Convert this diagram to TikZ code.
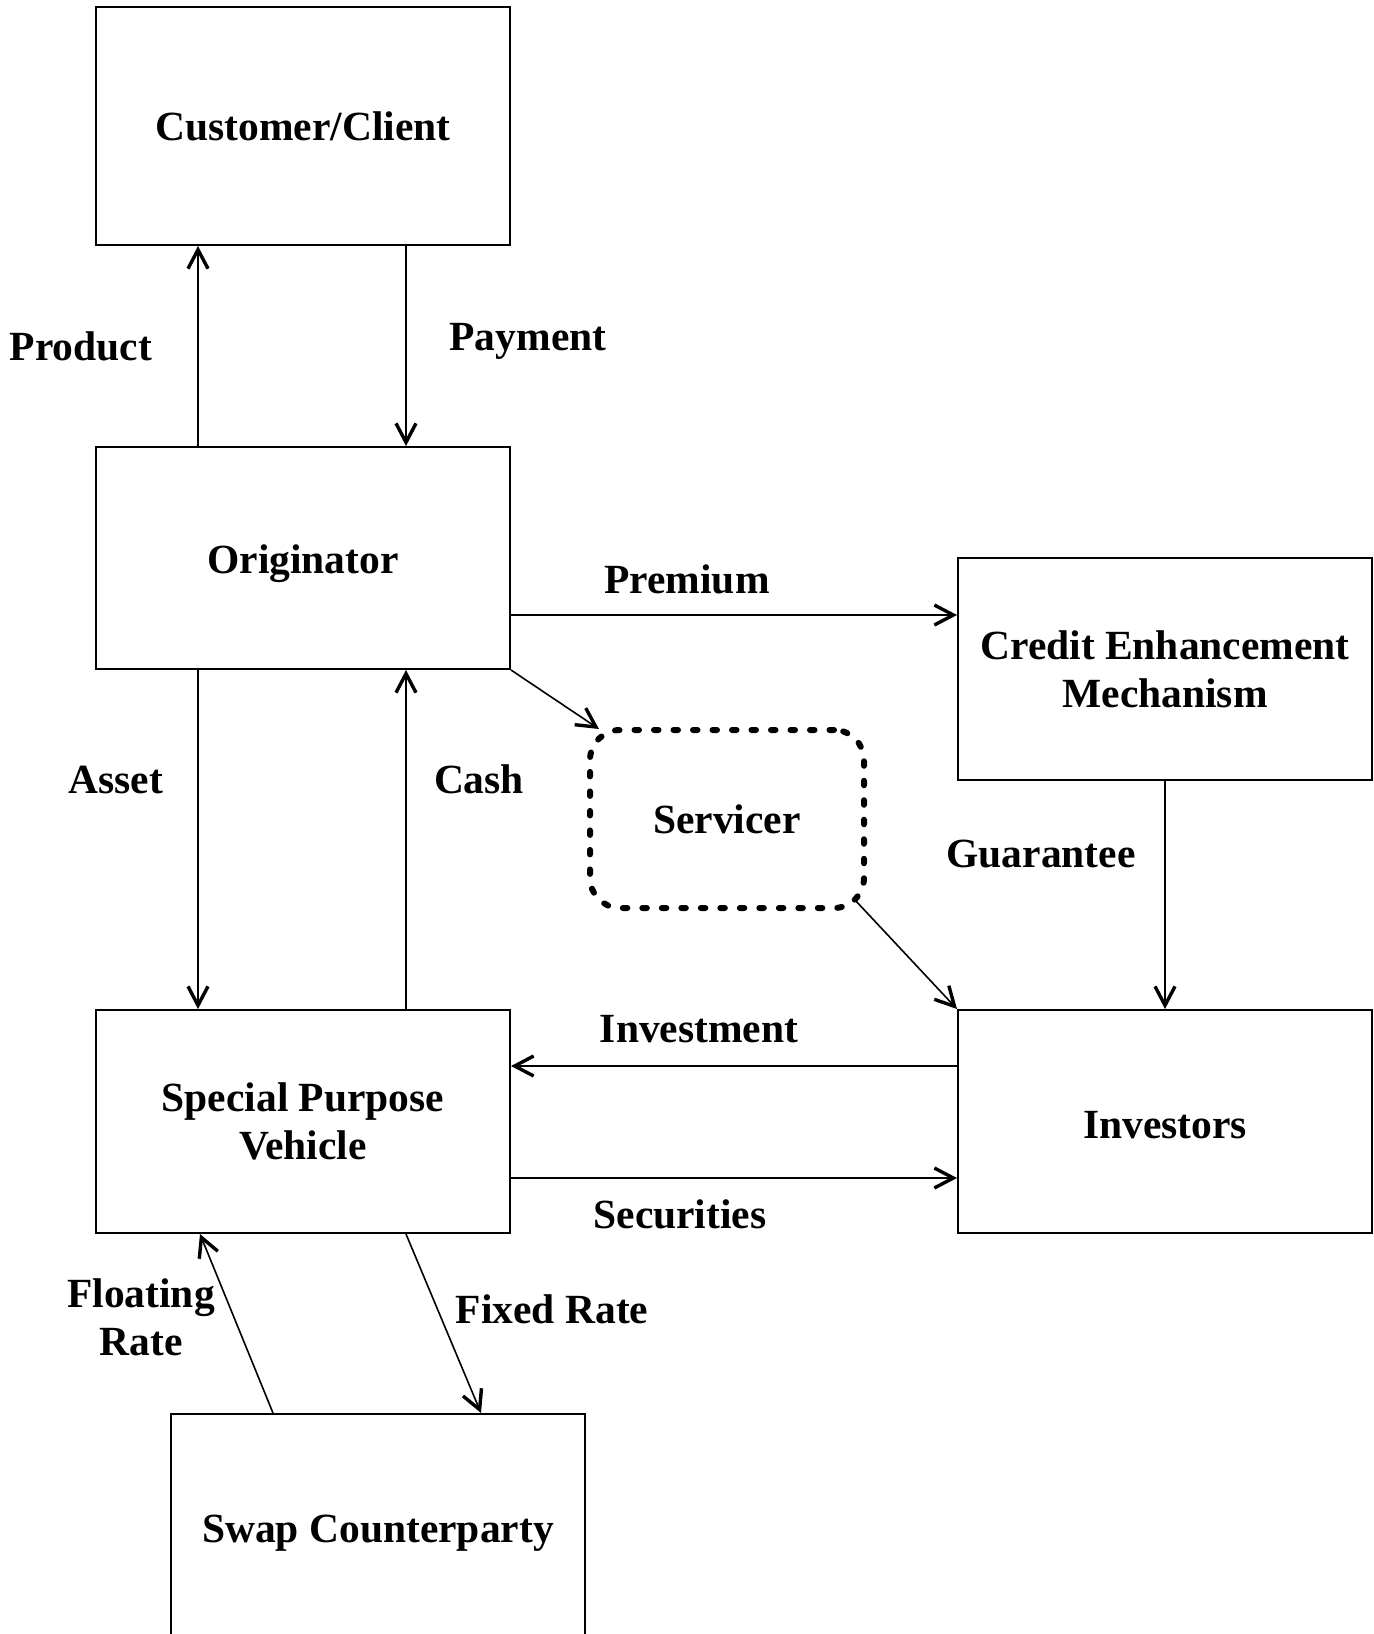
\documentclass[tikz,border=0pt]{standalone}
\usepackage{fontspec}
\setmainfont{Liberation Serif}
\usetikzlibrary{arrows.meta}
\newcommand{\lbl}{\fontsize{41.5}{48}\selectfont\bfseries}
\tikzset{
  box/.style={draw, line width=2pt, minimum width=414pt, inner sep=0pt, align=center, font=\lbl},
  arr/.style={line width=1.6pt, -{Straight Barb[length=19pt,width=20pt,line width=3.4pt 0]}},
  lab/.style={inner sep=0pt, font=\lbl, align=center},
  dotbox/.style={draw, line width=6pt, line cap=round, dash pattern=on 4.5pt off 15pt, rounded corners=30pt, inner sep=0pt, font=\lbl}
}
\begin{document}
\begin{tikzpicture}[x=1pt,y=-1pt]
\useasboundingbox (0,0) rectangle (1374,1634);
% boxes
\node[box, minimum height=238pt] (cust) at (303,126) {Customer/Client};
\node[box, minimum height=222pt] (orig) at (303,558) {};
\node[lab] (origt) at (303,564) {Originator};
\node[box, minimum height=222pt] (ce) at (1165,669) {Credit Enhancement\\Mechanism};
\node[dotbox, minimum width=274pt, minimum height=178pt] (serv) at (727,819) {Servicer};
\node[box, minimum height=223pt] (spv) at (303,1121.5) {Special Purpose\\Vehicle};
\node[box, minimum height=223pt] (inv) at (1165,1121.5) {};
\node[lab] (invt) at (1165,1125.5) {Investors};
\node[box, minimum height=228pt] (swap) at (378,1528) {};
\node[lab] (swapt) at (378,1533) {Swap Counterparty};
% connectors
\draw[arr] ([xshift=103pt]orig.north west) -- ([xshift=103pt]cust.south west);
\draw[arr] ([xshift=311pt]cust.south west) -- ([xshift=311pt]orig.north west);
\draw[arr] ([xshift=103pt]orig.south west) -- ([xshift=103pt]spv.north west);
\draw[arr] ([xshift=311pt]spv.north west) -- ([xshift=311pt]orig.south west);
\draw[arr] ([yshift=-57pt]orig.east) -- ([yshift=54pt]ce.west);
\draw[arr] (orig.south east) -- ([xshift=12pt,yshift=-2pt]serv.north west);
\draw[arr] ([xshift=-12pt,yshift=11pt]serv.south east) -- (inv.north west);
\draw[arr] (ce.south) -- (inv.north);
\draw[arr] ([yshift=55.5pt]inv.west) -- ([yshift=55.5pt]spv.east);
\draw[arr] ([yshift=-56.5pt]spv.east) -- ([yshift=-56.5pt]inv.west);
\draw[arr] ([xshift=103pt]swap.north west) -- ([xshift=105pt]spv.south west);
\draw[arr] ([xshift=311pt]spv.south west) -- ([xshift=311pt]swap.north west);
% labels
\node[lab] (lprod) at (81,346) {Product};
\node[lab] (lpay) at (528,341) {Payment};
\node[lab] (lprem) at (687,579) {Premium};
\node[lab] (lasset) at (116,780) {Asset};
\node[lab] (lcash) at (479,779) {Cash};
\node[lab] (lguar) at (1041,854) {Guarantee};
\node[lab] (linvest) at (699,1029) {Investment};
\node[lab] (lsec) at (680,1214) {Securities};
\node[lab] (lfloat) at (141,1317) {Floating\\Rate};
\node[lab] (lfixed) at (552,1309) {Fixed Rate};
\end{tikzpicture}
\end{document}
